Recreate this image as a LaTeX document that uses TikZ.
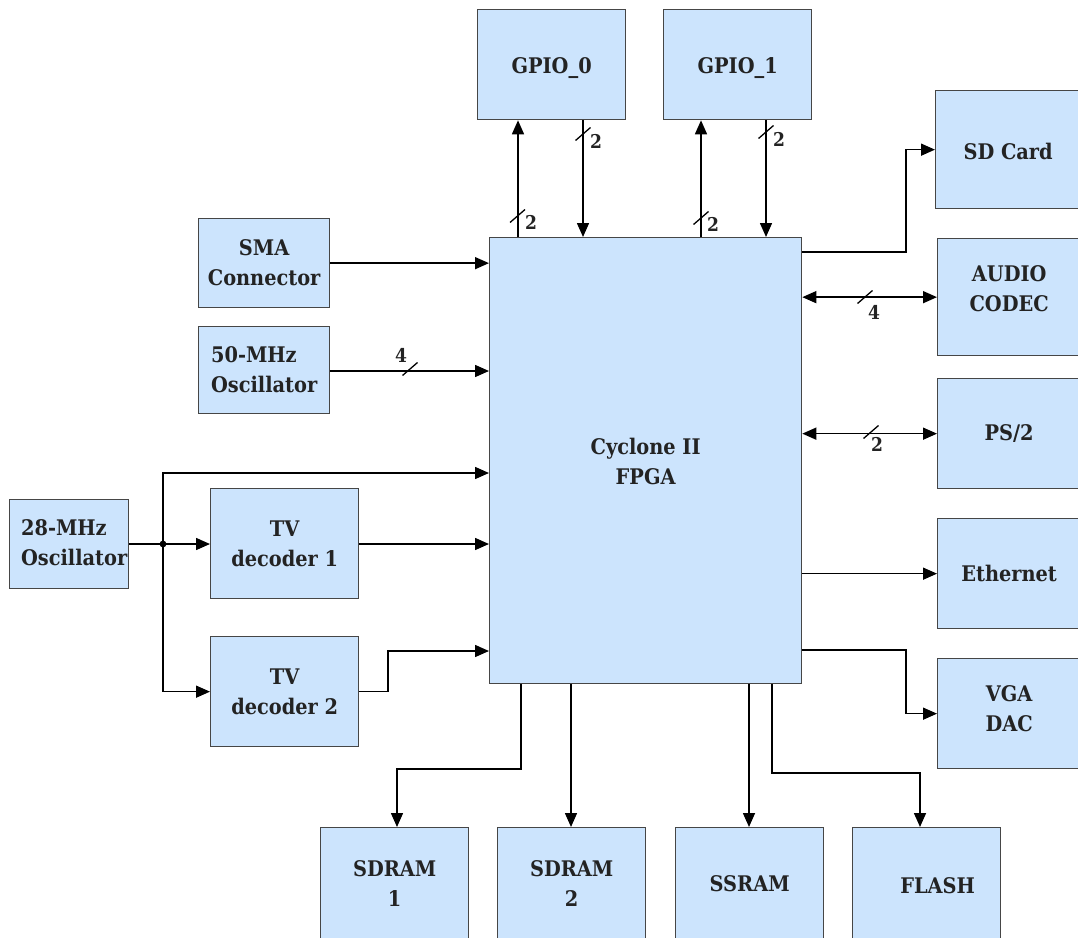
\documentclass[tikz,border=0pt]{standalone}
\usepackage{fontspec}
\setmainfont{Liberation Serif}
\IfFontExistsTF{DejaVu Serif Condensed}
  {\newfontfamily\diagfont{DejaVu Serif Condensed}}
  {\newfontfamily\diagfont{Liberation Serif}}
\usetikzlibrary{arrows.meta,calc}
\definecolor{boxfill}{RGB}{204,228,253}
\definecolor{boxline}{RGB}{70,70,70}
\definecolor{txt}{RGB}{35,35,35}
\newcommand\mvtext[2]{\raisebox{#1}[\height][\depth]{\begin{tabular}{@{}c@{}}#2\end{tabular}}}
\tikzset{
  blk/.style={draw=boxline, fill=boxfill, line width=1.3pt, anchor=north west,
    inner sep=0pt, align=center, font=\diagfont\bfseries\fontsize{21.5}{30}\selectfont, text=txt},
  conn/.style={line width=1.5pt, -{Triangle[length=14pt,width=12pt]}},
  biconn/.style={line width=1.5pt, {Triangle[length=14pt,width=12pt]}-{Triangle[length=14pt,width=12pt]}},
  wire/.style={line width=1.5pt},
  busno/.style={font=\diagfont\bfseries\fontsize{19}{20}\selectfont, text=txt, inner sep=0pt},
  slash/.style={line width=1.3pt},
  busmark/.pic={\draw[slash] (-7.5,6.5) -- (7.5,-6.5);},
}
\begin{document}
\begin{tikzpicture}[x=1pt,y=-1pt]
\useasboundingbox (0,0) rectangle (1078,937);
\clip (0,0) rectangle (1078,937);

% blocks
\node[blk, minimum width=148pt, minimum height=110pt] (gpio0) at (477,9) {\mvtext{-3pt}{GPIO\_0}};
\node[blk, minimum width=148pt, minimum height=110pt] (gpio1) at (663,9) {\mvtext{-3pt}{GPIO\_1}};
\node[blk, minimum width=312pt, minimum height=446pt] (fpga) at (489,237) {\mvtext{-3pt}{Cyclone II\\FPGA}};
\node[blk, minimum width=131pt, minimum height=89pt] (sma) at (198,218) {SMA\\Connector};
\node[blk, minimum width=131pt, minimum height=87pt, align=left] (osc50) at (198,326) {50-MHz\\Oscillator};
\node[blk, minimum width=119pt, minimum height=89pt] (osc28) at (9,499) {\hspace*{10pt}\begin{tabular}{@{}l@{}}28-MHz\\Oscillator\end{tabular}};
\node[blk, minimum width=148pt, minimum height=110pt] (tv1) at (210,488) {TV\\decoder 1};
\node[blk, minimum width=148pt, minimum height=110pt] (tv2) at (210,636) {TV\\decoder 2};
\node[blk, minimum width=145pt, minimum height=118pt] (sd) at (935,90) {\mvtext{-4pt}{SD Card}};
\node[blk, minimum width=143pt, minimum height=117pt] (audio) at (937,238) {\mvtext{7pt}{AUDIO\\CODEC}};
\node[blk, minimum width=143pt, minimum height=110pt] (ps2) at (937,378) {PS/2};
\node[blk, minimum width=143pt, minimum height=110pt] (eth) at (937,518) {Ethernet};
\node[blk, minimum width=143pt, minimum height=110pt] (vga) at (937,658) {\mvtext{3pt}{VGA\\DAC}};
\node[blk, minimum width=148pt, minimum height=112pt] (sdram1) at (320,827) {SDRAM\\1};
\node[blk, minimum width=148pt, minimum height=112pt] (sdram2) at (497,827) {SDRAM\\2};
\node[blk, minimum width=148pt, minimum height=112pt] (ssram) at (675,827) {SSRAM};
\node[blk, minimum width=148pt, minimum height=112pt] (flash) at (852,827) {\hspace*{22pt}\mvtext{-4pt}{FLASH}};

% GPIO connections
\draw[conn] (518,0 |- fpga.north) -- (518,0 |- gpio0.south);
\draw[conn] (583,0 |- gpio0.south) -- (583,0 |- fpga.north);
\draw[conn] (701,0 |- fpga.north) -- (701,0 |- gpio1.south);
\draw[conn] (766,0 |- gpio1.south) -- (766,0 |- fpga.north);
\pic at (517.5,216) {busmark};
\node[busno] (n1) at (531,222) {2};
\pic at (583,134) {busmark};
\node[busno] (n2) at (596,141) {2};
\pic at (701,218) {busmark};
\node[busno] (n3) at (713,224) {2};
\pic at (766,132) {busmark};
\node[busno] (n4) at (779,139) {2};

% left inputs
\draw[conn] (sma.east) -- (sma.east -| fpga.west);
\draw[conn] (osc50.east |- 0,371) -- (fpga.west |- 0,371);
\pic at (410,369) {busmark};
\node[busno] (n5) at (401,355) {4};

\coordinate (j) at (163,544);
\draw[wire] (osc28.east |- j) -- (j);
\fill (j) circle (3.4pt);
\draw[conn] (j) -- (tv1.west |- j);
\draw[conn] (j) |- (fpga.west |- 0,473);
\draw[conn] (j) |- (tv2.west);
\draw[conn] (tv1.east |- j) -- (fpga.west |- j);
\draw[conn] (tv2.east) -| (388,651) -- (fpga.west |- 0,651);

% right outputs
\draw[conn] (fpga.east |- 0,252) -| (906,0 |- sd.west) -- (sd.west);
\draw[biconn] (fpga.east |- audio.west) -- (audio.west);
\pic at (865,297) {busmark};
\node[busno] (n6) at (874,312) {4};
\draw[biconn] (fpga.east |- ps2.west) -- (ps2.west);
\pic at (871,432) {busmark};
\node[busno] (n7) at (877,444) {2};
\draw[conn] (fpga.east |- eth.west) -- (eth.west);
\draw[conn] (fpga.east |- 0,650) -| (906,0 |- vga.west) -- (vga.west);

% bottom memories
\draw[conn] (521,0 |- fpga.south) |- (397,769) -- (397,0 |- sdram1.north);
\draw[conn] (571,0 |- fpga.south) -- (571,0 |- sdram2.north);
\draw[conn] (749,0 |- fpga.south) -- (749,0 |- ssram.north);
\draw[conn] (772,0 |- fpga.south) |- (920,773) -- (920,0 |- flash.north);
\end{tikzpicture}
\end{document}
